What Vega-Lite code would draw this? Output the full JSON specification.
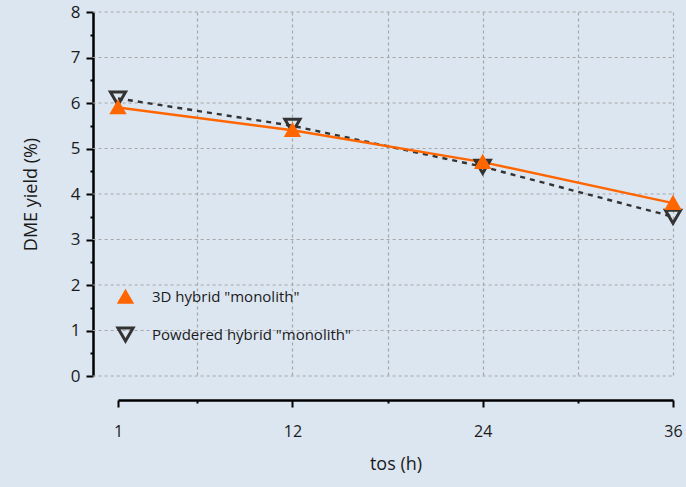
{
  "$schema": "https://vega.github.io/schema/vega-lite/v6.json",
  "width": 555,
  "height": 364,
  "autosize": {"type": "none"},
  "padding": {"left": 118, "top": 12, "right": 13, "bottom": 111},
  "background": "#dce6f1",
  "config": {
    "view": {"stroke": null},
    "font": "Open Sans",
    "axis": {"labelColor": "#1a1a1a", "titleColor": "#1a1a1a", "titleFontWeight": "normal"},
    "legend": {
      "labelFontSize": 15, "labelColor": "#1a1a1a", "labelOffset": 17, "labelLimit": 500,
      "symbolSize": 200, "symbolStrokeWidth": 3, "rowPadding": 12, "padding": 0
    }
  },
  "layer": [
    {
      "data": {"values": [{"g": 0}, {"g": 1}, {"g": 2}, {"g": 3}, {"g": 4}, {"g": 5}, {"g": 6}, {"g": 7}, {"g": 8}]},
      "mark": {"type": "rule", "strokeDash": [3, 3], "color": "#a6a6a6", "strokeWidth": 1.2, "clip": false},
      "encoding": {
        "y": {"field": "g", "type": "quantitative", "title": "DME yield (%)"},
        "x": {"datum": -0.6, "type": "quantitative", "title": "tos (h)"},
        "x2": {"datum": 36}
      }
    },
    {
      "data": {"values": [
        {"tos": 1, "yield": 6.1, "series": "Powdered hybrid \"monolith\""},
        {"tos": 12, "yield": 5.5, "series": "Powdered hybrid \"monolith\""},
        {"tos": 24, "yield": 4.6, "series": "Powdered hybrid \"monolith\""},
        {"tos": 36, "yield": 3.5, "series": "Powdered hybrid \"monolith\""},
        {"tos": 1, "yield": 5.9, "series": "3D hybrid \"monolith\""},
        {"tos": 12, "yield": 5.4, "series": "3D hybrid \"monolith\""},
        {"tos": 24, "yield": 4.7, "series": "3D hybrid \"monolith\""},
        {"tos": 36, "yield": 3.8, "series": "3D hybrid \"monolith\""}
      ]},
      "layer": [
        {
          "transform": [{"filter": {"field": "series", "equal": "Powdered hybrid \"monolith\""}}],
          "mark": {"type": "line", "strokeWidth": 2.4, "color": "#333333", "strokeDash": [5, 5]},
          "encoding": {
            "x": {"field": "tos", "type": "quantitative", "title": "tos (h)"},
            "y": {"field": "yield", "type": "quantitative", "title": "DME yield (%)"}
          }
        },
        {
          "transform": [{"filter": {"field": "series", "equal": "3D hybrid \"monolith\""}}],
          "mark": {"type": "line", "strokeWidth": 2.4, "color": "#ff6600"},
          "encoding": {
            "x": {"field": "tos", "type": "quantitative", "title": "tos (h)"},
            "y": {"field": "yield", "type": "quantitative", "title": "DME yield (%)"}
          }
        },
        {
          "mark": {"type": "point", "filled": false, "strokeWidth": 3, "opacity": 1},
          "encoding": {
            "x": {"field": "tos", "type": "quantitative", "title": "tos (h)"},
            "y": {"field": "yield", "type": "quantitative", "title": "DME yield (%)"},
            "color": {"field": "series", "type": "nominal", "title": null,
              "scale": {"domain": ["3D hybrid \"monolith\"", "Powdered hybrid \"monolith\""], "range": ["#ff6600", "#333333"]},
              "legend": {"orient": "none", "legendX": -2, "legendY": 277}},
            "shape": {"field": "series", "type": "nominal", "title": null,
              "scale": {"domain": ["3D hybrid \"monolith\"", "Powdered hybrid \"monolith\""], "range": ["triangle-up", "triangle-down"]}},
            "fill": {"field": "series", "type": "nominal", "title": null,
              "scale": {"domain": ["3D hybrid \"monolith\"", "Powdered hybrid \"monolith\""], "range": ["#ff6600", "transparent"]}},
            "size": {"field": "series", "type": "nominal", "legend": null,
              "scale": {"domain": ["3D hybrid \"monolith\"", "Powdered hybrid \"monolith\""], "range": [150, 230]}}
          }
        }
      ]
    }
  ],
  "encoding": {
    "x": {
      "type": "quantitative",
      "title": "tos (h)",
      "scale": {"domain": [1, 36], "nice": false, "zero": false},
      "axis": {
        "values": [1, 6, 12, 18, 24, 30, 36],
        "labelExpr": "datum.value % 6 == 0 && datum.value % 12 != 0 ? '' : datum.label",
        "offset": 24,
        "domainColor": "#000000", "domainWidth": 2.5,
        "tickColor": "#000000", "tickWidth": 2,
        "tickSize": {"condition": {"test": "datum.value % 12 == 0 || datum.value == 1", "value": 7}, "value": 3},
        "labelFontSize": 16, "labelPadding": 16, "labelFlush": false,
        "grid": true, "gridDash": [3, 3], "gridColor": "#a6a6a6", "gridWidth": 1.2,
        "gridOpacity": {"condition": {"test": "datum.value == 1", "value": 0}, "value": 1},
        "titleFontSize": 18, "titlePadding": 16
      }
    },
    "y": {
      "type": "quantitative",
      "title": "DME yield (%)",
      "scale": {"domain": [0, 8], "nice": false},
      "axis": {
        "values": [0, 0.5, 1, 1.5, 2, 2.5, 3, 3.5, 4, 4.5, 5, 5.5, 6, 6.5, 7, 7.5, 8],
        "labelExpr": "datum.value % 1 == 0 ? format(datum.value, 'd') : ''",
        "offset": 25,
        "domainColor": "#000000", "domainWidth": 2.5,
        "tickColor": "#000000", "tickWidth": 2,
        "tickSize": {"condition": {"test": "datum.value % 1 == 0", "value": 7}, "value": 3},
        "labelFontSize": 17, "labelPadding": 6,
        "grid": false,
        "titleFontSize": 18, "titlePadding": 30
      }
    }
  }
}
